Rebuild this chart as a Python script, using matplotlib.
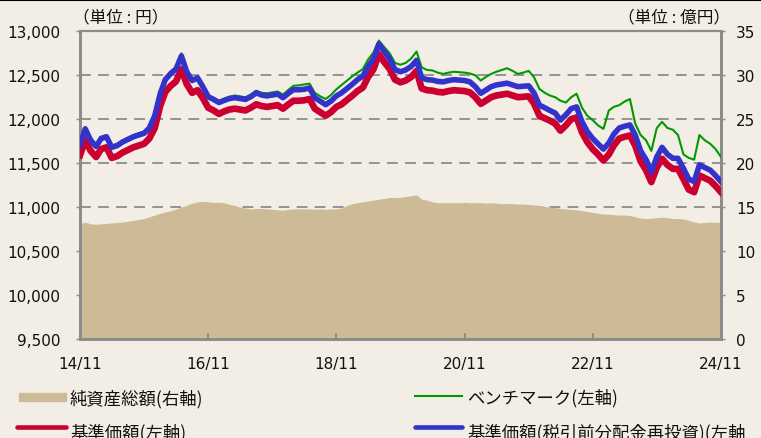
import matplotlib
matplotlib.use("Agg")
import matplotlib.pyplot as plt
from matplotlib.lines import Line2D
from matplotlib.patches import Rectangle
import pandas as pd

# ---- data (monthly, Nov 2014 - Nov 2024) ----
start_month = "2014-11-01"
n_months = 121

nav = [11590, 11760, 11640, 11570, 11660, 11680, 11560, 11580, 11620, 11650,
       11680, 11700, 11720, 11780, 11900, 12150, 12310, 12380, 12430, 12570,
       12400, 12300, 12330, 12240, 12130, 12100, 12060, 12090, 12110, 12120,
       12110, 12100, 12130, 12170, 12150, 12140, 12150, 12160, 12120, 12170,
       12210, 12210, 12215, 12230, 12120, 12080, 12040, 12080, 12140, 12170,
       12220, 12270, 12320, 12360, 12480, 12570, 12740, 12650, 12570, 12450,
       12420, 12440, 12480, 12550, 12350, 12330, 12325, 12310, 12305, 12320,
       12330, 12325, 12320, 12305, 12250, 12175, 12210, 12250, 12270, 12280,
       12290, 12270, 12250, 12255, 12260, 12180, 12040, 12010, 11985, 11950,
       11870, 11930, 12000, 12020, 11850, 11740, 11660, 11600, 11530, 11600,
       11700, 11780, 11800, 11815, 11700, 11520, 11420, 11285, 11450, 11550,
       11480, 11435, 11435, 11320, 11200, 11170, 11360, 11330, 11300, 11240,
       11170]

nav_reinvest = [11710, 11890, 11760, 11690, 11780, 11800, 11680, 11700, 11740, 11770,
                11800, 11820, 11840, 11900, 12040, 12290, 12450, 12520, 12570, 12720,
                12540, 12440, 12470, 12370, 12255, 12225, 12190, 12215, 12235, 12245,
                12235, 12225, 12255, 12300, 12275, 12265, 12275, 12285, 12245, 12295,
                12335, 12335, 12340, 12355, 12245, 12205, 12165, 12205, 12265, 12300,
                12350, 12400, 12450, 12490, 12600, 12690, 12855, 12770, 12685, 12565,
                12540, 12560, 12600, 12670, 12470, 12450, 12445, 12430, 12425, 12440,
                12450, 12445, 12440, 12425, 12370, 12295, 12330, 12370, 12390, 12400,
                12410, 12390, 12370, 12375, 12380, 12300, 12160, 12130, 12100, 12070,
                11990, 12050, 12120, 12140, 11970, 11860, 11780, 11720, 11660, 11730,
                11830, 11900, 11920, 11935, 11820, 11640, 11540, 11400, 11570, 11680,
                11600, 11555, 11555, 11440, 11320, 11290, 11480, 11450, 11420, 11360,
                11290]

benchmark = [11730, 11910, 11780, 11710, 11800, 11820, 11700, 11720, 11760, 11790,
             11820, 11840, 11860, 11920, 12060, 12310, 12470, 12540, 12590, 12750,
             12560, 12460, 12490, 12390, 12275, 12245, 12210, 12235, 12255, 12270,
             12260, 12250, 12280, 12325, 12300, 12295, 12305, 12315, 12280, 12335,
             12380, 12385, 12395, 12405, 12300, 12260, 12230, 12275, 12340, 12390,
             12440, 12490, 12530, 12570, 12680, 12760, 12895, 12820, 12750, 12640,
             12620, 12640, 12690, 12770, 12590, 12560, 12555, 12530, 12515, 12530,
             12540, 12535, 12530, 12520, 12500, 12440, 12480, 12515, 12540, 12560,
             12580, 12550, 12515, 12530, 12550, 12480, 12345, 12300, 12270, 12250,
             12210, 12190, 12250, 12290, 12130, 12040, 11990, 11930, 11890, 12100,
             12140, 12160, 12200, 12230, 11950, 11820, 11760, 11640, 11900, 11970,
             11900, 11880, 11820, 11600, 11560, 11540, 11820, 11760, 11720, 11660,
             11570]

net_assets = [13.1, 13.3, 13.1, 13.05, 13.1, 13.15, 13.2, 13.25, 13.3, 13.4,
              13.5, 13.6, 13.7, 13.9, 14.1, 14.3, 14.45, 14.6, 14.8, 15.0,
              15.2, 15.45, 15.6, 15.65, 15.6, 15.55, 15.55, 15.5, 15.3, 15.2,
              15.0, 14.9, 14.8, 14.85, 14.85, 14.8, 14.75, 14.7, 14.65, 14.75,
              14.8, 14.8, 14.8, 14.8, 14.75, 14.8, 14.75, 14.8, 14.8, 14.9,
              15.2, 15.4, 15.5, 15.6, 15.7, 15.8, 15.9, 16.0, 16.1, 16.1,
              16.1, 16.2, 16.3, 16.4, 15.9, 15.8, 15.6, 15.5, 15.5, 15.5,
              15.5, 15.5, 15.55, 15.5, 15.5, 15.5, 15.45, 15.5, 15.45, 15.4,
              15.4, 15.4, 15.35, 15.35, 15.3, 15.25, 15.2, 15.1, 15.0, 14.95,
              14.85, 14.8, 14.75, 14.7, 14.6, 14.5, 14.4, 14.3, 14.2, 14.2,
              14.15, 14.1, 14.1, 14.05, 13.9, 13.75, 13.7, 13.75, 13.8, 13.85,
              13.8, 13.7, 13.7, 13.65, 13.5, 13.3, 13.2, 13.25, 13.3, 13.25,
              13.3]

x_tick_labels = ["14/11", "16/11", "18/11", "20/11", "22/11", "24/11"]
left_ticks = [9500, 10000, 10500, 11000, 11500, 12000, 12500, 13000]
right_ticks = [0, 5, 10, 15, 20, 25, 30, 35]

legend_labels = ["純資産総額(右軸)", "ベンチマーク(左軸)", "基準価額(左軸)",
                 "基準価額(税引前分配金再投資)(左軸"]
unit_left = "（単位 : 円）"
unit_right = "（単位 : 億円）"

# ---- styling ----
BG = "#F2EEE6"
AREA = "#CCBB96"
RED = "#CC0030"
BLUE = "#3333CC"
GREEN = "#009900"
GRAY = "#8C8C8C"
TXT = "#111111"
JP = ["Noto Sans CJK JP", "DejaVu Sans"]

dates = pd.date_range(start_month, periods=n_months, freq="MS")

W, H = 761, 439
fig = plt.figure(figsize=(W / 100, H / 100), dpi=100, facecolor=BG)

L, R, B, T = 80, 721, 340, 32.3
rect = [L / W, 1 - B / H, (R - L) / W, (B - T) / H]
ax2 = fig.add_axes(rect)   # right axis: net assets area
ax2.set_facecolor(BG)
ax = fig.add_axes(rect, sharex=ax2)   # left axis: prices, drawn on top
ax.patch.set_visible(False)

# area (right scale)
ax2.fill_between(dates, 0, net_assets, color=AREA, linewidth=0, zorder=2)
ax2.set_ylim(0, 35)
ax2.set_yticks(right_ticks)
ax2.yaxis.tick_right()
ax2.grid(axis="y", color=GRAY, linestyle=(0, (6, 4)), linewidth=1.3, zorder=1)
ax2.set_axisbelow(True)

# lines (left scale)
ax.plot(dates, benchmark, color=GREEN, linewidth=1.5, zorder=3)
ax.plot(dates, nav, color=RED, linewidth=4.8, zorder=4, solid_joinstyle="round")
ax.plot(dates, nav_reinvest, color=BLUE, linewidth=4.0, zorder=5, solid_joinstyle="round")
ax.set_ylim(9500, 13000)
ax.set_yticks(left_ticks)
ax.set_yticklabels([f"{v:,}" for v in left_ticks])

ax.set_xlim(dates[0], dates[-1])
ax.set_xticks([dates[i] for i in range(0, n_months, 24)])
ax.set_xticklabels(x_tick_labels)

for a in (ax, ax2):
    for s in a.spines.values():
        s.set_color(GRAY)
    a.spines["left"].set_linewidth(2)
    a.spines["right"].set_linewidth(2)
    a.spines["bottom"].set_linewidth(2)
    a.spines["top"].set_linewidth(1.5)

ax.tick_params(axis="y", direction="out", length=3, width=1, color=GRAY,
               labelsize=11, pad=11, labelcolor=TXT)
ax.tick_params(axis="x", direction="in", length=4, width=1.5, color=GRAY,
               labelsize=11, pad=12, labelcolor=TXT)
ax2.tick_params(axis="y", direction="out", length=3, width=1, color=GRAY,
                labelsize=11, pad=8, labelcolor=TXT)
ax2.tick_params(axis="x", bottom=False, labelbottom=False)

# unit labels
fig.text(73 / W, 1 - 18 / H, unit_left, fontsize=12, family=JP,
         ha="left", va="center", color=TXT)
fig.text(730 / W, 1 - 18 / H, unit_right, fontsize=12, family=JP,
         ha="right", va="center", color=TXT)

# top black line
fig.add_artist(Line2D([0, 1], [1 - 0.8 / H, 1 - 0.8 / H], color="black",
                      linewidth=1.5, transform=fig.transFigure))

# manual legend
fs_leg = 12.5
fig.add_artist(Rectangle((19 / W, 1 - 402 / H), 47 / W, 8 / H, color=AREA,
                         transform=fig.transFigure))
fig.text(70 / W, 1 - 399 / H, legend_labels[0], fontsize=fs_leg, family=JP,
         ha="left", va="center", color=TXT)
fig.add_artist(Line2D([415 / W, 462 / W], [1 - 397 / H, 1 - 397 / H], color=GREEN,
                      linewidth=1.5, transform=fig.transFigure))
fig.text(467 / W, 1 - 398 / H, legend_labels[1], fontsize=fs_leg, family=JP,
         ha="left", va="center", color=TXT)
fig.add_artist(Line2D([17 / W, 66 / W], [1 - 428 / H, 1 - 428 / H], color=RED,
                      linewidth=3.3, solid_capstyle="round", transform=fig.transFigure))
fig.text(70 / W, 1 - 433 / H, legend_labels[2], fontsize=fs_leg, family=JP,
         ha="left", va="center", color=TXT)
fig.add_artist(Line2D([415 / W, 462 / W], [1 - 428 / H, 1 - 428 / H], color=BLUE,
                      linewidth=3.3, solid_capstyle="round", transform=fig.transFigure))
fig.text(467 / W, 1 - 433 / H, legend_labels[3], fontsize=fs_leg, family=JP,
         ha="left", va="center", color=TXT)

fig.savefig("out.png", dpi=100, facecolor=BG)
